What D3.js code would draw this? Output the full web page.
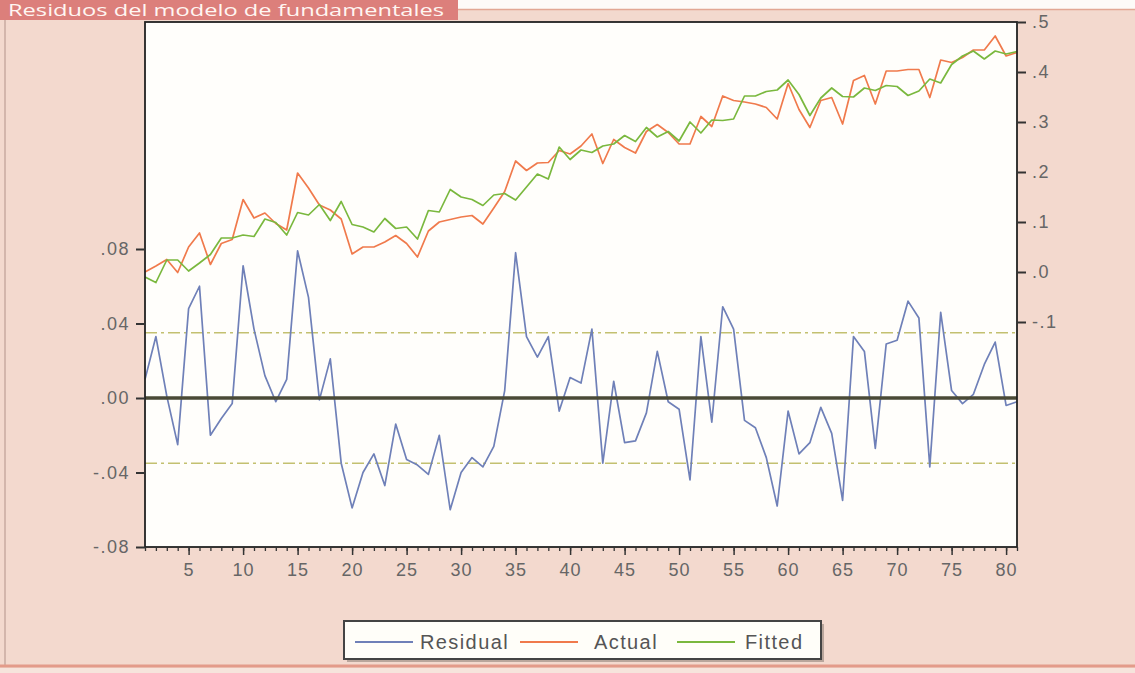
<!DOCTYPE html>
<html>
<head>
<meta charset="utf-8">
<script src="https://cdn.jsdelivr.net/npm/d3@7"></script>
<style>
  html, body { margin: 0; padding: 0; background: #f3d9ce; }
  svg { display: block; }
</style>
</head>
<body>
<svg id="chart" width="1135" height="673"></svg>
<script>
// ---- data (observations 1..81) ----
const titleText = "Residuos del modelo de fundamentales";
const obs = d3.range(1, 82);
const residual = [
  0.010, 0.033, 0.001, -0.025, 0.048, 0.060, -0.020, -0.011, -0.003, 0.071,
  0.037, 0.012, -0.002, 0.010, 0.079, 0.054, -0.001, 0.021, -0.035, -0.059,
  -0.040, -0.030, -0.047, -0.014, -0.033, -0.036, -0.041, -0.020, -0.060, -0.040,
  -0.032, -0.037, -0.026, 0.004, 0.078, 0.033, 0.022, 0.033, -0.007, 0.011,
  0.008, 0.037, -0.035, 0.009, -0.024, -0.023, -0.008, 0.025, -0.002, -0.006,
  -0.044, 0.033, -0.013, 0.049, 0.037, -0.012, -0.016, -0.032, -0.058, -0.007,
  -0.030, -0.024, -0.005, -0.019, -0.055, 0.033, 0.025, -0.027, 0.029, 0.031,
  0.052, 0.043, -0.037, 0.046, 0.004, -0.003, 0.002, 0.018, 0.030, -0.004,
  -0.002
];
const actual = [
  0.000, 0.012, 0.025, -0.001, 0.050, 0.078, 0.015, 0.057, 0.065, 0.145,
  0.108, 0.118, 0.097, 0.084, 0.198, 0.168, 0.134, 0.124, 0.106, 0.036,
  0.050, 0.050, 0.060, 0.073, 0.057, 0.030, 0.082, 0.100, 0.105, 0.110,
  0.113, 0.096, 0.128, 0.161, 0.222, 0.203, 0.218, 0.219, 0.243, 0.236,
  0.252, 0.276, 0.217, 0.265, 0.249, 0.238, 0.281, 0.295, 0.279, 0.256,
  0.256, 0.311, 0.291, 0.352, 0.343, 0.340, 0.336, 0.329, 0.306, 0.377,
  0.325, 0.289, 0.343, 0.349, 0.296, 0.383, 0.393, 0.336, 0.402, 0.402,
  0.405, 0.405, 0.349, 0.424, 0.419, 0.429, 0.444, 0.444, 0.472, 0.432,
  0.439
];
const fitted = [
  -0.010, -0.021, 0.024, 0.024, 0.002, 0.018, 0.035, 0.068, 0.068, 0.074,
  0.071, 0.106, 0.099, 0.074, 0.119, 0.114, 0.135, 0.103, 0.141, 0.095,
  0.090, 0.080, 0.107, 0.087, 0.090, 0.066, 0.123, 0.120, 0.165, 0.150,
  0.145, 0.133, 0.154, 0.157, 0.144, 0.170, 0.196, 0.186, 0.250, 0.225,
  0.244, 0.239, 0.252, 0.256, 0.273, 0.261, 0.289, 0.270, 0.281, 0.262,
  0.300, 0.278, 0.304, 0.303, 0.306, 0.352, 0.352, 0.361, 0.364, 0.384,
  0.355, 0.313, 0.348, 0.368, 0.351, 0.350, 0.368, 0.363, 0.373, 0.371,
  0.353, 0.362, 0.386, 0.378, 0.415, 0.432, 0.442, 0.426, 0.442, 0.436,
  0.441
];
const residualBand = 0.035;              // +/- 1 S.E. reference lines
const leftTicks = [-0.08, -0.04, 0.00, 0.04, 0.08];
const rightTicks = [-0.1, 0.0, 0.1, 0.2, 0.3, 0.4, 0.5];
const xMajorTicks = [5, 10, 15, 20, 25, 30, 35, 40, 45, 50, 55, 60, 65, 70, 75, 80];
const seriesNames = ["Residual", "Actual", "Fitted"];

// ---- layout ----
const svg = d3.select("#chart");
const W = 1135, H = 673;
const plot = { left: 145, right: 1017, top: 22, bottom: 547 };
const colors = { Residual: "#6f80b8", Actual: "#f07a4c", Fitted: "#7ab83e" };
const fontFam = "'Liberation Sans', Arial, sans-serif";

const x = d3.scaleLinear().domain([1, 81]).range([plot.left, plot.right]);
const yRes = d3.scaleLinear().domain([-0.08, 0.08]).range([plot.bottom, 249]);
const yAct = d3.scaleLinear().domain([-0.1, 0.5]).range([322, plot.top]);

const evFmt = (d, dec) => {
  let s = d3.format("." + dec + "f")(Math.abs(d)).replace(/^0/, "");
  return (d < 0 ? "-" : "") + s;
};

// background
svg.append("rect").attr("width", W).attr("height", H).attr("fill", "#f3d9ce");
// top-right white strip
svg.append("rect").attr("x", 458).attr("y", 0).attr("width", W - 458).attr("height", 9).attr("fill", "#fdfbf8");
svg.append("line").attr("x1", 458).attr("x2", W).attr("y1", 9.5).attr("y2", 9.5)
  .attr("stroke", "#e2a894").attr("stroke-width", 1.5);
// title banner
svg.append("rect").attr("x", 0).attr("y", 0).attr("width", 458).attr("height", 20).attr("fill", "#dc7f7b");
svg.append("text").attr("x", 8).attr("y", 16)
  .attr("font-family", "'Open Sans', 'Noto Sans', sans-serif")
  .attr("font-size", 16).attr("fill", "#fff6f2")
  .attr("textLength", 436).attr("lengthAdjust", "spacingAndGlyphs")
  .text(titleText);
// left frame line and bottom border
svg.append("line").attr("x1", 5).attr("x2", 5).attr("y1", 20).attr("y2", 666)
  .attr("stroke", "#c9aaa0").attr("stroke-width", 1.5);
svg.append("line").attr("x1", 0).attr("x2", W).attr("y1", 666).attr("y2", 666)
  .attr("stroke", "#e39b8a").attr("stroke-width", 3);
svg.append("rect").attr("x", 0).attr("y", 668).attr("width", W).attr("height", 5).attr("fill", "#f6e4dc");

// plot background
svg.append("rect").attr("x", plot.left).attr("y", plot.top)
  .attr("width", plot.right - plot.left).attr("height", plot.bottom - plot.top)
  .attr("fill", "#fffefb");

const g = svg.append("g");

// residual reference bands
[residualBand, -residualBand].forEach(v => {
  g.append("line").attr("x1", plot.left).attr("x2", plot.right)
    .attr("y1", yRes(v)).attr("y2", yRes(v))
    .attr("stroke", "#c3c070").attr("stroke-width", 1.6)
    .attr("stroke-dasharray", "12,4,3,4");
});

const lineOf = (arr, ys) => d3.line().x((d, i) => x(obs[i])).y(d => ys(d))(arr);

g.append("path").attr("d", lineOf(actual, yAct)).attr("fill", "none")
  .attr("stroke", colors.Actual).attr("stroke-width", 1.7).attr("stroke-linejoin", "round");
g.append("path").attr("d", lineOf(fitted, yAct)).attr("fill", "none")
  .attr("stroke", colors.Fitted).attr("stroke-width", 1.7).attr("stroke-linejoin", "round");
g.append("path").attr("d", lineOf(residual, yRes)).attr("fill", "none")
  .attr("stroke", colors.Residual).attr("stroke-width", 1.7).attr("stroke-linejoin", "round");

// zero line of residuals
g.append("line").attr("x1", plot.left).attr("x2", plot.right)
  .attr("y1", yRes(0)).attr("y2", yRes(0))
  .attr("stroke", "#4a4a36").attr("stroke-width", 3.5);

// frame
svg.append("rect").attr("x", plot.left).attr("y", plot.top)
  .attr("width", plot.right - plot.left).attr("height", plot.bottom - plot.top)
  .attr("fill", "none").attr("stroke", "#222").attr("stroke-width", 1.8);

// left axis (residual)
const leftAxis = d3.axisLeft(yRes).tickValues(leftTicks).tickSize(9).tickPadding(6)
  .tickFormat(d => evFmt(d, 2));
const gl = svg.append("g").attr("transform", `translate(${plot.left},0)`).call(leftAxis);
gl.select(".domain").remove();
gl.selectAll(".tick line").attr("stroke", "#333").attr("stroke-width", 2);
gl.selectAll(".tick text").attr("font-family", fontFam).attr("font-size", 18)
  .attr("letter-spacing", "1.5px").attr("fill", "#666");

// right axis (actual / fitted)
const rightAxis = d3.axisRight(yAct).tickValues(rightTicks).tickSize(9).tickPadding(6)
  .tickFormat(d => evFmt(d, 1));
const gr = svg.append("g").attr("transform", `translate(${plot.right},0)`).call(rightAxis);
gr.select(".domain").remove();
gr.selectAll(".tick line").attr("stroke", "#333").attr("stroke-width", 2);
gr.selectAll(".tick text").attr("font-family", fontFam).attr("font-size", 18)
  .attr("letter-spacing", "1.5px").attr("fill", "#666");

// bottom axis: minor ticks every observation, labels every 5
const gxMinor = svg.append("g").attr("transform", `translate(0,${plot.bottom})`)
  .call(d3.axisBottom(x).tickValues(obs).tickSize(4).tickFormat(""));
gxMinor.select(".domain").remove();
gxMinor.selectAll(".tick line").attr("stroke", "#333").attr("stroke-width", 1.3);
const gx = svg.append("g").attr("transform", `translate(0,${plot.bottom})`)
  .call(d3.axisBottom(x).tickValues(xMajorTicks).tickSize(8).tickPadding(8).tickFormat(d3.format("d")));
gx.select(".domain").remove();
gx.selectAll(".tick line").attr("stroke", "#333").attr("stroke-width", 1.5);
gx.selectAll(".tick text").attr("font-family", fontFam).attr("font-size", 18)
  .attr("letter-spacing", "1px").attr("fill", "#666");

// legend
const lg = svg.append("g");
lg.append("rect").attr("x", 347).attr("y", 624).attr("width", 477).attr("height", 38).attr("fill", "#b9a69c");
lg.append("rect").attr("x", 344).attr("y", 621).attr("width", 477).attr("height", 38)
  .attr("fill", "#fffef9").attr("stroke", "#444").attr("stroke-width", 2);
const legItems = [
  { name: seriesNames[0], lx: 355, tx: 420 },
  { name: seriesNames[1], lx: 520, tx: 594 },
  { name: seriesNames[2], lx: 677, tx: 745 }
];
legItems.forEach(it => {
  lg.append("line").attr("x1", it.lx).attr("x2", it.lx + 58).attr("y1", 642).attr("y2", 642)
    .attr("stroke", colors[it.name]).attr("stroke-width", 2);
  lg.append("text").attr("x", it.tx).attr("y", 649).attr("font-family", fontFam)
    .attr("font-size", 20).attr("letter-spacing", "1.4px").attr("fill", "#555").text(it.name);
});
</script>
</body>
</html>
